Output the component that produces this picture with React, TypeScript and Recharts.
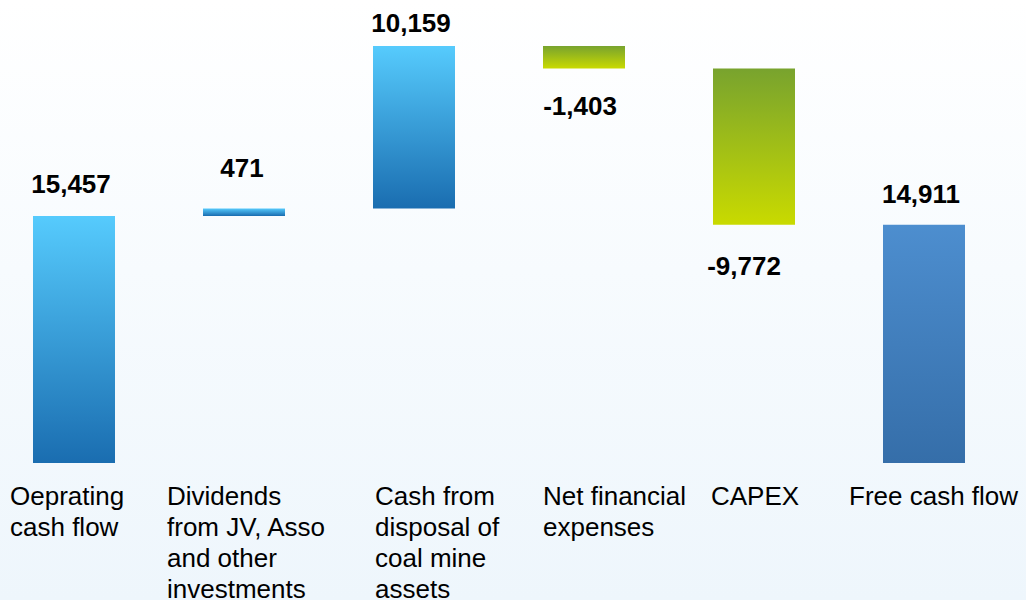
import { BarChart, Bar, XAxis, YAxis, Cell, LabelList } from "recharts";

const categories = [
  "Oeprating\ncash flow",
  "Dividends\nfrom JV, Asso\nand other\ninvestments",
  "Cash from\ndisposal of\ncoal mine\nassets",
  "Net financial\nexpenses",
  "CAPEX",
  "Free cash flow",
];
const values = [15457, 471, 10159, -1403, -9772, 14911];
const isTotal = [true, false, false, false, false, true];
const fills = ["url(#blueGrad)", "url(#blueGrad)", "url(#blueGrad)", "url(#greenGrad)", "url(#greenGrad)", "url(#totalGrad)"];

// label placement in the source is by hand, so keep small per-item nudges
const tickShift = [-64, -77, -39, -41, -43, -75];
const labelGap = [23, 31, 14, 47, 50, 22];
const labelDx = [-3, -2, -3, -4, -10, -3];

let running = 0;
const data = categories.map((name, i) => {
  const v = values[i];
  let low: number;
  let high: number;
  if (isTotal[i]) {
    low = 0;
    high = v;
    running = v;
  } else {
    low = Math.min(running, running + v);
    high = Math.max(running, running + v);
    running += v;
  }
  return { name, value: v, range: [low, high] };
});

const font = '"Liberation Sans", Arial, sans-serif';

function CategoryTick(props: any) {
  const { x, y, payload, index } = props;
  const lines = String(payload.value).split("\n");
  return (
    <text x={x + tickShift[index]} y={y + 34} fontFamily={font} fontSize={26} fill="#000" textAnchor="start">
      {lines.map((l, k) => (
        <tspan key={k} x={x + tickShift[index]} dy={k === 0 ? 0 : 31}>
          {l}
        </tspan>
      ))}
    </text>
  );
}

function ValueLabel(props: any) {
  const { x, y, width, height, index } = props;
  const v = values[index];
  const top = Math.min(y, y + height);
  const bottom = Math.max(y, y + height);
  const ty = v >= 0 ? top - labelGap[index] : bottom + labelGap[index];
  return (
    <text x={x + width / 2 + labelDx[index]} y={ty} textAnchor="middle" fontFamily={font} fontSize={26} fontWeight="bold" fill="#000">
      {v.toLocaleString("en-US")}
    </text>
  );
}

export default function App() {
  return (
    <div
      style={{
        position: "fixed",
        left: 0,
        top: 0,
        width: 1026,
        height: 600,
        overflow: "hidden",
        background: "linear-gradient(to bottom, #ffffff 0%, #f7fbfe 45%, #eef6fc 100%)",
      }}
    >
      <div style={{ position: "absolute", left: -11, top: 0 }}>
        <BarChart width={1060} height={600} data={data} margin={{ top: 0, right: 40, left: 0, bottom: 0 }} barSize={82}>
          <defs>
            <linearGradient id="blueGrad" x1="0" y1="0" x2="0" y2="1">
              <stop offset="0%" stopColor="#56cbfd" />
              <stop offset="100%" stopColor="#1a6db0" />
            </linearGradient>
            <linearGradient id="greenGrad" x1="0" y1="0" x2="0" y2="1">
              <stop offset="0%" stopColor="#78a32e" />
              <stop offset="100%" stopColor="#c9da00" />
            </linearGradient>
            <linearGradient id="totalGrad" x1="0" y1="0" x2="0" y2="1">
              <stop offset="0%" stopColor="#4d8ecf" />
              <stop offset="100%" stopColor="#356ea9" />
            </linearGradient>
          </defs>
          <XAxis
            dataKey="name"
            height={137}
            axisLine={false}
            tickLine={false}
            interval={0}
            tick={<CategoryTick />}
          />
          <YAxis hide domain={[0, 28965]} />
          <Bar dataKey="range" isAnimationActive={false}>
            {data.map((d, i) => (
              <Cell key={d.name} fill={fills[i]} />
            ))}
            <LabelList dataKey="value" content={<ValueLabel />} />
          </Bar>
        </BarChart>
      </div>
    </div>
  );
}
